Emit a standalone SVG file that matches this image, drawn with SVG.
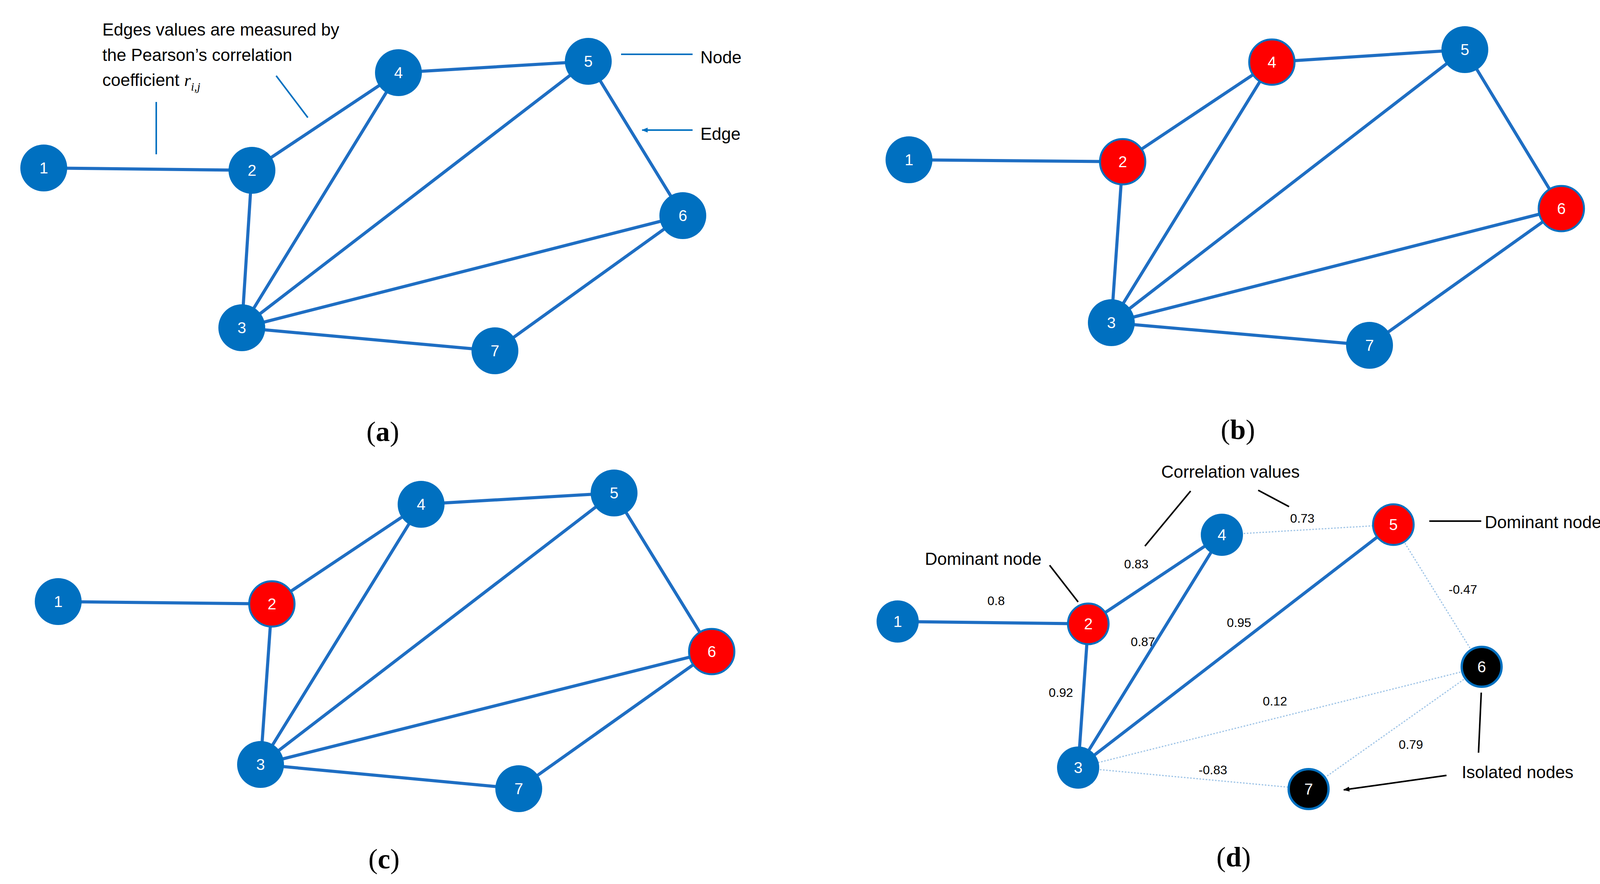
<svg xmlns="http://www.w3.org/2000/svg" width="4144" height="2263" viewBox="0 0 4144 2263">
<style>
.e{stroke:#1E6EC3;stroke-width:8;fill:none}
.f{stroke:#9DC3E6;stroke-width:3;stroke-dasharray:4 4;fill:none}
.b{fill:#0070C0}
.r{fill:#FF0000;stroke:#0070C0;stroke-width:5}
.k{fill:#000;stroke:#0070C0;stroke-width:6}
.n{font-family:"Liberation Sans",Arial,sans-serif;font-size:40px;fill:#fff;text-anchor:middle;dominant-baseline:central}
.t{font-family:"Liberation Sans",Arial,sans-serif;font-size:44px;fill:#000}
.s{font-family:"Liberation Sans",Arial,sans-serif;font-size:32px;fill:#000;text-anchor:middle;dominant-baseline:central}
.p{font-family:"Liberation Serif","Times New Roman",serif;font-size:72px;fill:#000;text-anchor:middle;dominant-baseline:central}
.ab{stroke:#0070C0;stroke-width:4;fill:none}
.ak{stroke:#000;stroke-width:4;fill:none}
</style>
<defs>
<marker id="mb" viewBox="0 0 10 10" refX="9" refY="5" markerWidth="4" markerHeight="4" orient="auto"><path d="M0,1 L10,5 L0,9 z" fill="#0070C0"/></marker>
<marker id="mk" viewBox="0 0 10 10" refX="9" refY="5" markerWidth="4" markerHeight="4" orient="auto"><path d="M0,1 L10,5 L0,9 z" fill="#000"/></marker>
</defs>
<g id="connectors">
<!-- a -->
<path class="e" d="M112,430 L645,436 M645,436 L1020,186 M645,436 L619,839 M1020,186 L1506,157 M1020,186 L619,839 M1506,157 L619,839 M1506,157 L1748,552 M1748,552 L619,839 M1748,552 L1267,898 M619,839 L1267,898"/>
<!-- b -->
<path class="e" d="M2327,409 L2874,414 M2874,414 L3256,159 M2874,414 L2845,826 M3256,159 L3750,127 M3256,159 L2845,826 M3750,127 L2845,826 M3750,127 L3997,534 M3997,534 L2845,826 M3997,534 L3506,884 M2845,826 L3506,884"/>
<!-- c -->
<path class="e" d="M149,1540 L696,1546 M696,1546 L1078,1291 M696,1546 L667,1957 M1078,1291 L1572,1262 M1078,1291 L667,1957 M1572,1262 L667,1957 M1572,1262 L1822,1668 M1822,1668 L667,1957 M1822,1668 L1328,2019 M667,1957 L1328,2019"/>
<!-- d -->
<path class="e" d="M2298,1591 L2786,1597 M2786,1597 L3128,1369 M2786,1597 L2760,1965 M3128,1369 L2760,1965 M3567,1343 L2760,1965"/>
<path class="f" d="M3128,1369 L3567,1343 M3567,1343 L3793,1707 M3793,1707 L2760,1965 M3793,1707 L3350,2020 M2760,1965 L3350,2020"/>
<!-- annotation arrows -->
<path class="ab" marker-end="url(#mb)" d="M400,261 L400,395 M707,194 L788,301 M1773,139 L1590,139 M1773,333 L1644,333"/>
<path class="ak" marker-end="url(#mk)" d="M3048,1257 L2931,1398 M3221,1255 L3300,1297 M3792,1334 L3659,1334 M2687,1447 L2760,1541 M3785,1927 L3792,1773 M3703,1985 L3440,2022"/>
</g>
<g id="panel-a">
<g id="a1"><circle class="b" cx="112" cy="430" r="60"/><text class="n" x="112" y="430">1</text></g>
<g id="a2"><circle class="b" cx="645" cy="436" r="60"/><text class="n" x="645" y="436">2</text></g>
<g id="a3"><circle class="b" cx="619" cy="839" r="60"/><text class="n" x="619" y="839">3</text></g>
<g id="a4"><circle class="b" cx="1020" cy="186" r="60"/><text class="n" x="1020" y="186">4</text></g>
<g id="a5"><circle class="b" cx="1506" cy="157" r="60"/><text class="n" x="1506" y="157">5</text></g>
<g id="a6"><circle class="b" cx="1748" cy="552" r="60"/><text class="n" x="1748" y="552">6</text></g>
<g id="a7"><circle class="b" cx="1267" cy="898" r="60"/><text class="n" x="1267" y="898">7</text></g>
<text class="t" x="262" y="91">Edges values are measured by</text>
<text class="t" x="262" y="156">the Pearson’s correlation</text>
<text class="t" x="262" y="220">coefficient <tspan font-family="Liberation Serif,serif" font-style="italic">r</tspan><tspan font-family="Liberation Serif,serif" font-style="italic" font-size="30" dy="12">i,j</tspan></text>
<text class="t" x="1793" y="162">Node</text>
<text class="t" x="1793" y="358">Edge</text>
<text class="p" x="980" y="1105">(<tspan font-weight="bold">a</tspan>)</text>
</g>
<g id="panel-b">
<g id="b1"><circle class="b" cx="2327" cy="409" r="60"/><text class="n" x="2327" y="409">1</text></g>
<g id="b2"><circle class="r" cx="2874" cy="414" r="58"/><text class="n" x="2874" y="414">2</text></g>
<g id="b3"><circle class="b" cx="2845" cy="826" r="60"/><text class="n" x="2845" y="826">3</text></g>
<g id="b4"><circle class="r" cx="3256" cy="159" r="58"/><text class="n" x="3256" y="159">4</text></g>
<g id="b5"><circle class="b" cx="3750" cy="127" r="60"/><text class="n" x="3750" y="127">5</text></g>
<g id="b6"><circle class="r" cx="3997" cy="534" r="58"/><text class="n" x="3997" y="534">6</text></g>
<g id="b7"><circle class="b" cx="3506" cy="884" r="60"/><text class="n" x="3506" y="884">7</text></g>
<text class="p" x="3169" y="1100">(<tspan font-weight="bold">b</tspan>)</text>
</g>
<g id="panel-c">
<g id="c1"><circle class="b" cx="149" cy="1540" r="60"/><text class="n" x="149" y="1540">1</text></g>
<g id="c2"><circle class="r" cx="696" cy="1546" r="58"/><text class="n" x="696" y="1546">2</text></g>
<g id="c3"><circle class="b" cx="667" cy="1957" r="60"/><text class="n" x="667" y="1957">3</text></g>
<g id="c4"><circle class="b" cx="1078" cy="1291" r="60"/><text class="n" x="1078" y="1291">4</text></g>
<g id="c5"><circle class="b" cx="1572" cy="1262" r="60"/><text class="n" x="1572" y="1262">5</text></g>
<g id="c6"><circle class="r" cx="1822" cy="1668" r="58"/><text class="n" x="1822" y="1668">6</text></g>
<g id="c7"><circle class="b" cx="1328" cy="2019" r="60"/><text class="n" x="1328" y="2019">7</text></g>
<text class="p" x="983" y="2199">(<tspan font-weight="bold">c</tspan>)</text>
</g>
<g id="panel-d">
<g id="d1"><circle class="b" cx="2298" cy="1591" r="54"/><text class="n" x="2298" y="1591">1</text></g>
<g id="d2"><circle class="r" cx="2786" cy="1597" r="52"/><text class="n" x="2786" y="1597">2</text></g>
<g id="d3"><circle class="b" cx="2760" cy="1965" r="54"/><text class="n" x="2760" y="1965">3</text></g>
<g id="d4"><circle class="b" cx="3128" cy="1369" r="54"/><text class="n" x="3128" y="1369">4</text></g>
<g id="d5"><circle class="r" cx="3567" cy="1343" r="52"/><text class="n" x="3567" y="1343">5</text></g>
<g id="d6"><circle class="k" cx="3793" cy="1707" r="51"/><text class="n" x="3793" y="1707">6</text></g>
<g id="d7"><circle class="k" cx="3350" cy="2020" r="51"/><text class="n" x="3350" y="2020">7</text></g>
<text class="t" x="3150" y="1223" text-anchor="middle">Correlation values</text>
<text class="t" x="3801" y="1352">Dominant node</text>
<text class="t" x="2517" y="1446" text-anchor="middle">Dominant node</text>
<text class="t" x="3885" y="1992" text-anchor="middle">Isolated nodes</text>
<text class="s" x="3334" y="1327">0.73</text>
<text class="s" x="2909" y="1444">0.83</text>
<text class="s" x="2550" y="1538">0.8</text>
<text class="s" x="2926" y="1643">0.87</text>
<text class="s" x="3172" y="1594">0.95</text>
<text class="s" x="3745" y="1509">-0.47</text>
<text class="s" x="2716" y="1773">0.92</text>
<text class="s" x="3264" y="1795">0.12</text>
<text class="s" x="3612" y="1906">0.79</text>
<text class="s" x="3105" y="1971">-0.83</text>
<text class="p" x="3158" y="2194">(<tspan font-weight="bold">d</tspan>)</text>
</g>
</svg>
